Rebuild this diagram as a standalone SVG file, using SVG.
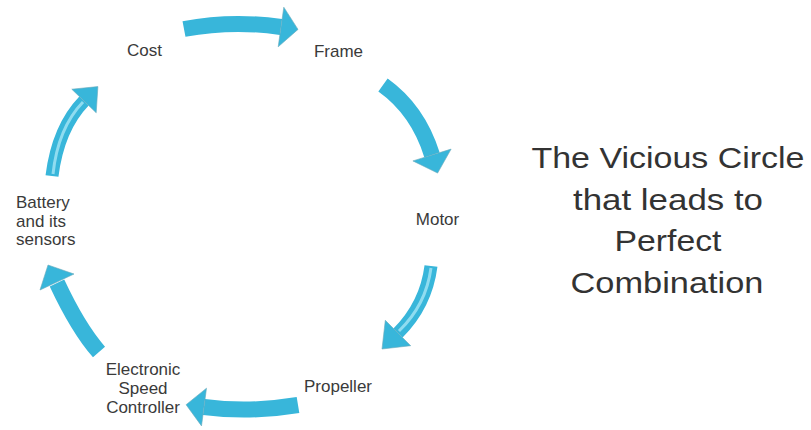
<svg xmlns="http://www.w3.org/2000/svg" width="811" height="430" viewBox="0 0 811 430">
<style>
.shaft{fill:none;stroke:#38b6da;stroke-linecap:butt}
.hl{fill:none;stroke:#8fdcf0;stroke-width:3;stroke-linecap:butt}
.head{fill:#38b6da;stroke:#6aaabb;stroke-opacity:0.6;stroke-width:1;stroke-linejoin:miter}
.lbl{font-family:"Liberation Sans",Arial,sans-serif;font-size:17px;fill:#3a3a3a}
.title{font-family:"Liberation Sans",Arial,sans-serif;font-size:30px;fill:#333333;text-anchor:middle}
</style>
<rect width="811" height="430" fill="#ffffff"/>
<g id="connectors">
  <g id="a1">
    <path class="shaft" stroke-width="16" d="M184,29 Q232,20 281,27"/>
    <polygon class="head" points="298,29.4 283.8,7.2 278.2,46.8"/>
  </g>
  <g id="a2">
    <path class="shaft" stroke-width="16" d="M383,85 Q418,110 432,155"/>
    <polygon class="head" points="437.6,173.1 451.1,149.1 412.9,160.9"/>
  </g>
  <g id="a3">
    <path class="shaft" stroke-width="13" d="M431,266 Q426,305 398,333"/>
    <path class="hl" d="M431,268 Q426,305 399,331"/>
    <polygon class="head" points="382,349 410.7,345.7 385.3,320.3"/>
  </g>
  <g id="a4">
    <path class="shaft" stroke-width="16" d="M298,405 Q250,413 204,407"/>
    <polygon class="head" points="186.1,404.7 206.5,388.2 201.5,425.9"/>
  </g>
  <g id="a5">
    <path class="shaft" stroke-width="16" d="M99,352 Q78,328 57,283"/>
    <polygon class="head" points="48,265 74,274 40,290"/>
  </g>
  <g id="a6">
    <path class="shaft" stroke-width="13" d="M52,176 Q58,128 84,101"/>
    <path class="hl" d="M53,174 Q58,128 83,102"/>
    <polygon class="head" points="97.9,86.6 96.2,112.8 71.8,89.2"/>
  </g>
</g>
<g id="cost"><text class="lbl" x="144.5" y="56" text-anchor="middle">Cost</text></g>
<g id="frame"><text class="lbl" x="338.5" y="57" text-anchor="middle">Frame</text></g>
<g id="motor"><text class="lbl" x="437.5" y="225" text-anchor="middle">Motor</text></g>
<g id="propeller"><text class="lbl" x="338" y="392" text-anchor="middle">Propeller</text></g>
<g id="esc">
  <text class="lbl" x="143" y="375" text-anchor="middle">Electronic</text>
  <text class="lbl" x="143" y="394" text-anchor="middle">Speed</text>
  <text class="lbl" x="143" y="413" text-anchor="middle">Controller</text>
</g>
<g id="battery">
  <text class="lbl" x="16" y="208">Battery</text>
  <text class="lbl" x="16" y="226.5">and its</text>
  <text class="lbl" x="16" y="245">sensors</text>
</g>
<g id="title">
  <text class="title" x="668" y="168" textLength="273" lengthAdjust="spacingAndGlyphs">The Vicious Circle</text>
  <text class="title" x="668" y="209.5" textLength="190" lengthAdjust="spacingAndGlyphs">that leads to</text>
  <text class="title" x="668" y="251" textLength="107" lengthAdjust="spacingAndGlyphs">Perfect</text>
  <text class="title" x="667" y="293" textLength="193" lengthAdjust="spacingAndGlyphs">Combination</text>
</g>
</svg>
